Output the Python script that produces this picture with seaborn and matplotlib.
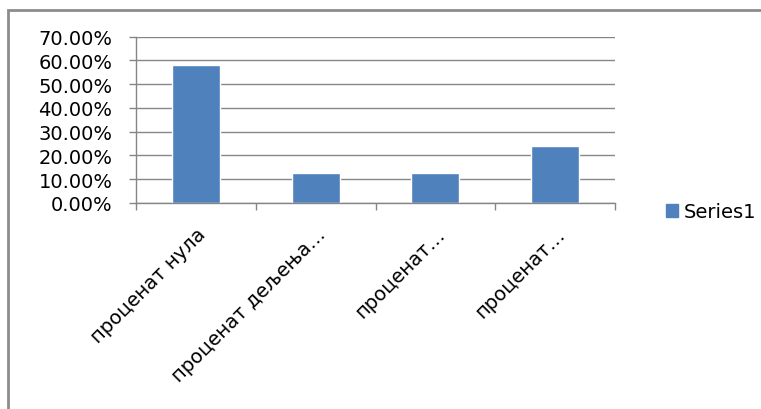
import numpy as np
import pandas as pd
import matplotlib
matplotlib.use("Agg")
import matplotlib.pyplot as plt
import matplotlib.patches as mpatches
import seaborn as sns
from matplotlib.ticker import PercentFormatter

categories = ["проценат нула", "проценат дељења…", "проценат…", "проценат…"]
values = [0.582, 0.127, 0.127, 0.241]
series_name = "Series1"
y_ticks = [0.0, 0.1, 0.2, 0.3, 0.4, 0.5, 0.6, 0.7]

bar_color = "#4F81BD"
grid_color = "#868686"

sns.set_theme(style="white")
plt.rcParams['font.family'] = ['DejaVu Sans']
plt.rcParams['text.color'] = 'black'
plt.rcParams['xtick.color'] = 'black'
plt.rcParams['ytick.color'] = 'black'

df = pd.DataFrame({
    'category': [f"c{i}" for i in range(len(categories))],
    'value': values,
    'series': series_name,
})

fig = plt.figure(figsize=(7.61, 4.10), dpi=100)
ax = fig.add_axes([136 / 761, 1 - 204 / 410, (615 - 136) / 761, (204 - 37.5) / 410])

sns.barplot(data=df, x='category', y='value', hue='series',
            palette=[bar_color], width=0.4, saturation=1, ax=ax, legend=False)

ax.set_xlim(-0.5, len(categories) - 0.5)
ax.set_ylim(0, 0.7)
ax.set_yticks(y_ticks)
ax.yaxis.set_major_formatter(PercentFormatter(xmax=1, decimals=2))
ax.yaxis.grid(True, color=grid_color, linewidth=1.0)
ax.set_axisbelow(True)
ax.set_xlabel("")
ax.set_ylabel("")

# category labels at centres, boundary ticks as minor ticks
ax.set_xticks(np.arange(len(categories)))
ax.set_xticklabels(categories, rotation=45, ha='right', rotation_mode='anchor')
ax.set_xticks(np.arange(len(categories) + 1) - 0.5, minor=True)
ax.tick_params(axis='x', which='major', length=0, pad=15, labelsize=14, labelcolor='black')
ax.tick_params(axis='x', which='minor', length=5, width=1.0, color=grid_color, direction='out', bottom=True)
ax.tick_params(axis='y', which='major', length=5, width=1.0, color=grid_color, direction='out', left=True,
               labelsize=14, labelcolor='black', pad=12)

for side in ['top', 'right']:
    ax.spines[side].set_visible(False)
for side in ['left', 'bottom']:
    ax.spines[side].set_color(grid_color)
    ax.spines[side].set_linewidth(1.0)

# legend outside plot area
handle = mpatches.Patch(color=bar_color, label=series_name)
fig.legend(handles=[handle], loc='center left', bbox_to_anchor=(648 / 761, 1 - 213 / 410),
           frameon=False, fontsize=14, handlelength=0.65, handleheight=0.65, handletextpad=0.3,
           labelcolor='black')

# outer chart frame (only top and left edges visible)
frame = mpatches.Rectangle((8 / 761, -0.2), 1.2, 1.2 - 11 / 410, transform=fig.transFigure,
                           fill=False, edgecolor="#8C8C8C", linewidth=2.0, clip_on=False)
fig.add_artist(frame)

fig.savefig("out.png", dpi=100)
plt.close(fig)
